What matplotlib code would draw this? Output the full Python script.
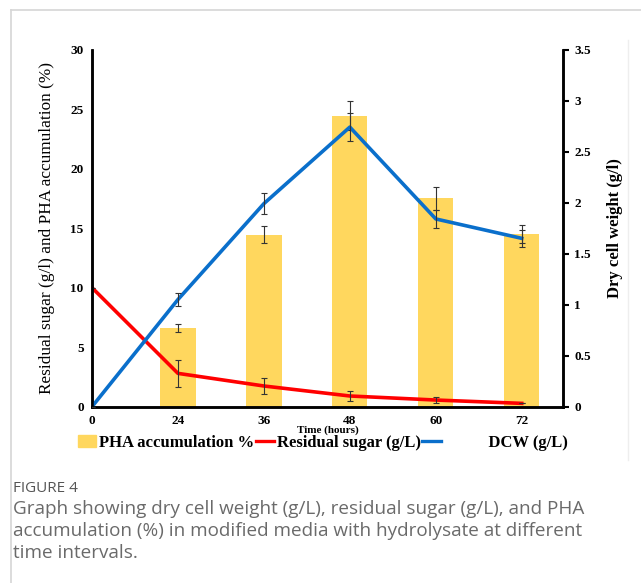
import matplotlib.pyplot as plt
import numpy as np
from matplotlib.lines import Line2D
from matplotlib.patches import Patch

# time points (hours) and measured values
time_labels = ['0', '24', '36', '48', '60', '72']
pha = [6.6, 14.45, 24.45, 17.5, 14.5]          # PHA accumulation % (24-72 h)
pha_err = [0.34, 0.73, 1.2, 0.95, 0.76]
sugar = [10.0, 2.8, 1.74, 0.9, 0.56, 0.28]      # residual sugar g/L
sugar_err = [0, 1.12, 0.71, 0.38, 0.25, 0]
dcw = [0.0, 1.05, 1.99, 2.74, 1.84, 1.65]       # dry cell weight g/L
dcw_err = [0, 0.06, 0.10, 0.14, 0.09, 0.085]

bar_col = '#FFD75E'
red = '#FF0000'
blue = '#0A6FCB'
ecol = '#333333'

plt.rcParams['font.family'] = ['Liberation Serif', 'DejaVu Serif']

fig = plt.figure(figsize=(6.41, 5.83), dpi=100)
ax = fig.add_axes([0.1435, 0.3024, 0.7348, 0.6126])
ax2 = ax.twinx()

x = np.arange(len(time_labels))

ax.bar(x[1:], pha, width=0.41, color=bar_col, zorder=1)
ax.errorbar(x[1:], pha, yerr=pha_err, fmt='none', ecolor=ecol, elinewidth=0.8, capsize=2, capthick=0.8, zorder=3)
ax.plot(x, sugar, color=red, lw=2.6, zorder=2)
ax.errorbar(x, sugar, yerr=sugar_err, fmt='none', ecolor=ecol, elinewidth=0.8, capsize=2, capthick=0.8, zorder=3)

ax2.plot(x, dcw, color=blue, lw=2.6, zorder=2)
ax2.errorbar(x, dcw, yerr=dcw_err, fmt='none', ecolor=ecol, elinewidth=0.8, capsize=2, capthick=0.8, zorder=3)

ax.set_xlim(0, 5.48)
ax.set_ylim(0, 30)
ax2.set_ylim(0, 3.5)
ax.set_xticks(x)
ax.set_xticklabels(time_labels)
ax.set_yticks(np.arange(0, 31, 5))
ax2.set_yticks(np.arange(0, 3.51, 0.5))
ax2.set_yticklabels(['0', '0.5', '1', '1.5', '2', '2.5', '3', '3.5'])

for a in (ax, ax2):
    a.spines['top'].set_visible(False)
    for s in a.spines.values():
        s.set_linewidth(1.8)
    for lab in a.get_xticklabels() + a.get_yticklabels():
        lab.set_fontweight('bold')
        lab.set_fontsize(9.5)

ax.tick_params(axis='both', length=0, pad=6)
ax2.tick_params(axis='y', length=4, width=1.5, pad=4)

ax.set_ylabel('Residual sugar (g/l) and PHA accumulation (%)', fontsize=12.4, labelpad=11)
ax2.set_ylabel('Dry cell weight (g/l)', fontsize=12, fontweight='bold', labelpad=12)
ax.set_xlabel('Time (hours)', fontsize=8, fontweight='bold', labelpad=-1)

handles = [Patch(color=bar_col), Line2D([], [], color=red, lw=2.4), Line2D([], [], color=blue, lw=2.4)]
labels = ['PHA accumulation %', 'Residual sugar (g/L)', '           DCW (g/L)']
fig.legend(handles, labels, loc='center', bbox_to_anchor=(0.504, 0.24), ncol=3, frameon=False,
           prop={'family': 'Liberation Serif', 'weight': 'bold', 'size': 12},
           handlelength=1.1, handletextpad=0.15, columnspacing=0.1, borderpad=0)

# page frame
fig.add_artist(Line2D([11 / 641, 1], [1 - 10 / 583] * 2, color='#d6d6d6', lw=1.2))
fig.add_artist(Line2D([11 / 641] * 2, [0, 1 - 10 / 583], color='#d6d6d6', lw=1.2))
fig.add_artist(Line2D([628 / 641] * 2, [1 - 460 / 583, 1 - 40 / 583], color='#eeeeee', lw=1))

fig.text(13 / 641, 1 - 488 / 583, 'FIGURE 4', family='Open Sans', fontsize=11, color='#555555', va='center')
caption = ('Graph showing dry cell weight (g/L), residual sugar (g/L), and PHA\n'
           'accumulation (%) in modified media with hydrolysate at different\n'
           'time intervals.')
fig.text(13 / 641, 1 - 500 / 583, caption, family='Open Sans', fontsize=13.6, color='#6a6a6a',
         va='top', linespacing=1.3)

fig.savefig('out.png', dpi=100)
